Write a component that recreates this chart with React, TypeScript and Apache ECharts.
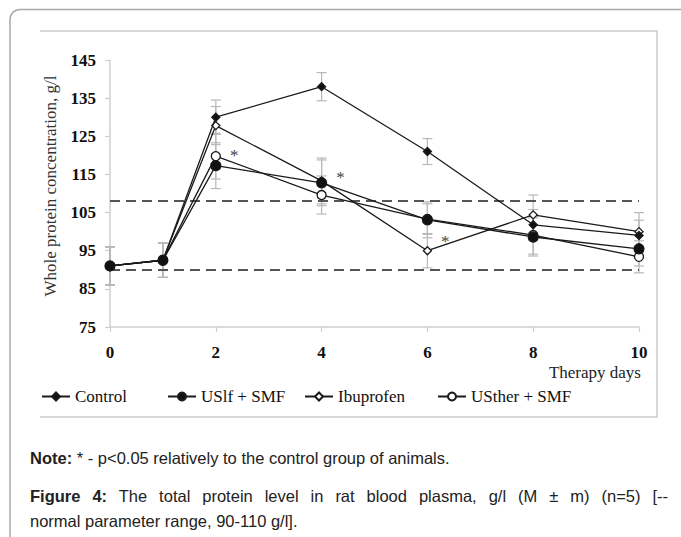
import React, { useEffect, useRef } from "react";
import * as echarts from "echarts";

const days = [0, 1, 2, 4, 6, 8, 10];
const xTicks = [0, 2, 4, 6, 8, 10];
const yMin = 75;
const yMax = 145;
const yStep = 10;
const normalRange = [90, 108];

const seriesNames = ["Control", "USlf + SMF", "Ibuprofen", "USther + SMF"];
const controlValues = [91, 92.5, 130, 138, 121, 101.8, 99];
const uslfValues = [91, 92.5, 117.3, 112.8, 103.1, 98.6, 95.5];
const ibuprofenValues = [91, 92.5, 127.8, 113.3, 95, 104.4, 100];
const ustherValues = [91, 92.5, 119.8, 109.6, 103.3, 99.1, 93.4];

const controlErr = [5, 4.5, 4.5, 3.7, 3.4, 4, 4];
const uslfErr = [5, 4.5, 6, 6, 4.7, 5, 4.5];
const ibuprofenErr = [5, 4.5, 5, 6, 4.5, 5.2, 5];
const ustherErr = [5, 4.5, 6, 5, 4, 5, 4.2];

// significance marks: [series index, day index, dx, dy]
const starMarks: Array<[number, number, number, number]> = [
  [3, 2, 4, -1],
  [2, 3, 5, -3],
  [2, 4, 4, -9],
];

const serif = "'Liberation Serif', 'DejaVu Serif', serif";
const sans = "'Liberation Sans', Arial, sans-serif";

export default function App() {
  const ref = useRef<HTMLDivElement>(null);

  useEffect(() => {
    if (!ref.current) return;
    const chart = echarts.init(ref.current, undefined, { renderer: "svg" });

    const allValues = [controlValues, uslfValues, ibuprofenValues, ustherValues];
    const allErr = [controlErr, uslfErr, ibuprofenErr, ustherErr];
    const symbols = ["diamond", "circle", "diamond", "circle"];
    const sizes = [8, 10, 8, 9];
    const fills = ["#111", "#111", "#fff", "#fff"];
    const zs = [7, 9, 6, 5];

    const lineSeries = allValues.map((vals, si) => ({
      name: seriesNames[si],
      type: "line",
      z: zs[si],
      symbol: symbols[si],
      symbolSize: sizes[si],
      showAllSymbol: true,
      lineStyle: { color: "#1a1a1a", width: 1.3 },
      itemStyle: { color: fills[si], borderColor: "#1a1a1a", borderWidth: 1.3 },
      label: { show: false, color: "#444", fontFamily: serif, fontSize: 17 },
      emphasis: { disabled: true },
      data: days.map((d, i) => {
        const star = starMarks.find((s) => s[0] === si && s[1] === i);
        if (star) {
          return {
            value: [d, vals[i]],
            label: {
              show: true,
              formatter: "*",
              position: "right",
              offset: [star[2], star[3]],
              fontFamily: serif,
              fontSize: 17,
              color: "#444",
            },
          };
        }
        return [d, vals[i]];
      }),
      markLine:
        si === 0
          ? {
              silent: true,
              symbol: "none",
              label: { show: false },
              lineStyle: { color: "#555", type: [10, 6], width: 1.8 },
              data: normalRange.map((v) => ({ yAxis: v })),
            }
          : undefined,
    }));

    const errData: number[][] = [];
    allValues.forEach((vals, si) => {
      vals.forEach((v, i) => {
        errData.push([days[i], v - allErr[si][i], v + allErr[si][i]]);
      });
    });

    const errSeries = {
      name: "err",
      type: "custom",
      z: 2,
      silent: true,
      encode: { x: 0, y: [1, 2] },
      data: errData,
      renderItem: (_params: any, api: any) => {
        const x = api.value(0);
        const lo = api.value(1);
        const hi = api.value(2);
        const top = api.coord([x, hi]);
        const bot = api.coord([x, lo]);
        const w = 5;
        const style = { stroke: "#b8b8b8", lineWidth: 1.2, fill: "none" };
        return {
          type: "group",
          children: [
            { type: "line", shape: { x1: top[0], y1: top[1], x2: bot[0], y2: bot[1] }, style },
            { type: "line", shape: { x1: top[0] - w, y1: top[1], x2: top[0] + w, y2: top[1] }, style },
            { type: "line", shape: { x1: bot[0] - w, y1: bot[1], x2: bot[0] + w, y2: bot[1] }, style },
          ],
        };
      },
    };

    const legendLefts = [36, 162, 299, 432];
    const legends = seriesNames.map((n, i) => ({
      data: [n],
      left: legendLefts[i],
      top: 383,
      itemWidth: 28,
      itemHeight: 10,
      selectedMode: false,
      textStyle: { fontFamily: serif, fontSize: 17, color: "#111" },
    }));

    chart.setOption({
      animation: false,
      backgroundColor: "#fff",
      grid: { left: 110, right: 42, top: 60, bottom: 210, containLabel: false },
      legend: legends,
      xAxis: {
        type: "value",
        min: 0,
        max: 10,
        interval: 2,
        axisLine: { show: true, onZero: false, lineStyle: { color: "#cfcfcf", width: 1.5 } },
        axisTick: { show: true, length: 5, lineStyle: { color: "#cfcfcf", width: 1.2 } },
        axisLabel: {
          margin: 17,
          fontFamily: serif,
          fontSize: 17,
          fontWeight: "bold",
          color: "#111",
          formatter: (v: number) => (xTicks.includes(v) ? String(v) : ""),
        },
        splitLine: { show: false },
      },
      yAxis: {
        type: "value",
        min: yMin,
        max: yMax,
        interval: yStep,
        axisLine: { show: true, lineStyle: { color: "#cfcfcf", width: 1.5 } },
        axisTick: { show: true, length: 5, lineStyle: { color: "#cfcfcf", width: 1.2 } },
        axisLabel: {
          margin: 14,
          fontFamily: serif,
          fontSize: 17,
          fontWeight: "bold",
          color: "#111",
        },
        splitLine: { show: false },
      },
      graphic: [
        {
          type: "rect",
          silent: true,
          shape: { x: 10, y: 9.5, width: 720, height: 600, r: 10 },
          style: { fill: "none", stroke: "#a8a8a8", lineWidth: 1.5 },
        },
        {
          type: "polyline",
          silent: true,
          shape: { points: [[40, 31], [657, 31], [657, 417], [40, 417]] },
          style: { fill: "none", stroke: "#cccccc", lineWidth: 1.5 },
        },
        {
          type: "text",
          silent: true,
          x: 50,
          y: 186,
          rotation: Math.PI / 2,
          style: {
            text: "Whole protein concentration, g/l",
            fontFamily: serif,
            fontSize: 17,
            fill: "#333",
            align: "center",
            verticalAlign: "middle",
          },
        },
        {
          type: "text",
          silent: true,
          x: 641,
          y: 372,
          style: {
            text: "Therapy days",
            fontFamily: serif,
            fontSize: 17,
            fill: "#222",
            align: "right",
            verticalAlign: "middle",
          },
        },
      ],
      series: [errSeries, ...lineSeries],
    });

    return () => chart.dispose();
  }, []);

  const lineStyle: React.CSSProperties = {
    position: "absolute",
    left: 30,
    width: 638,
    fontFamily: sans,
    fontSize: 16.5,
    lineHeight: "20px",
    color: "#222",
    whiteSpace: "nowrap",
  };

  return (
    <div style={{ position: "fixed", left: 0, top: 0, width: 681, height: 537, background: "#fff" }}>
      <div ref={ref} style={{ position: "absolute", left: 0, top: 0, width: 681, height: 537 }} />
      <div style={{ ...lineStyle, top: 448 }}>
        <b>Note:</b> * - p&lt;0.05 relatively to the control group of animals.
      </div>
      <div style={{ ...lineStyle, top: 486, whiteSpace: "normal", textAlign: "justify", textAlignLast: "justify" }}>
        <b>Figure 4:</b> The total protein level in rat blood plasma, g/l (M ± m) (n=5) [--
      </div>
      <div style={{ ...lineStyle, top: 511 }}>normal parameter range, 90-110 g/l].</div>
    </div>
  );
}
